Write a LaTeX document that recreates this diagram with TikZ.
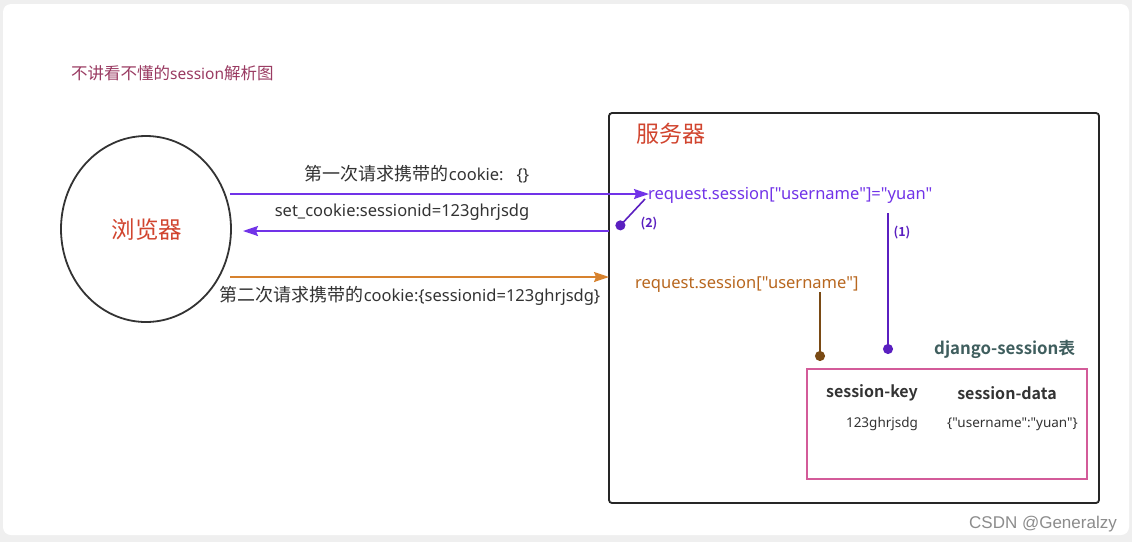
\documentclass[tikz,border=0pt]{standalone}
\usepackage{fontspec}
\setmainfont{Noto Sans}
\newfontfamily\latin{Noto Sans}
\newfontfamily\cjk{Noto Sans CJK SC}[BoldFont={Noto Sans CJK SC Bold}]
\newfontfamily\wmfont{Liberation Sans}
\usetikzlibrary{arrows.meta,shapes.geometric}
\definecolor{bgc}{HTML}{EFEFEF}
\definecolor{purp}{HTML}{7133E8}
\definecolor{dpurp}{HTML}{5A1FC0}
\definecolor{orng}{HTML}{D7822E}
\definecolor{brwn}{HTML}{7A4A14}
\definecolor{ortx}{HTML}{B8671F}
\definecolor{redt}{HTML}{D1452F}
\definecolor{titc}{HTML}{9A3B62}
\definecolor{tealc}{HTML}{3F5E5E}
\definecolor{pinkc}{HTML}{D35B99}
\definecolor{txt}{HTML}{333333}
\newcommand\cj[1]{{\cjk\fontsize{18}{20}\selectfont #1}}
\tikzset{
  lbl/.style={inner sep=0pt, text=txt, font=\latin\fontsize{16.5}{19}\selectfont},
  flow/.style={line width=1.6pt, -{Stealth[length=15pt,width=10pt,inset=2pt]}},
  dotend/.style={line width=1.6pt, -{Circle[length=10pt]}},
}
\begin{document}
\begin{tikzpicture}[x=1pt,y=-1pt]
\useasboundingbox (0,0) rectangle (1132,542);
\fill[bgc] (0,0) rectangle (1132,542);
\fill[white,rounded corners=8pt] (3,4) rectangle (1129,535);

% title
\node[anchor=west,inner sep=0pt,text=titc,font=\latin\fontsize{15.5}{17}\selectfont] (title) at (71,73) {{\cjk\fontsize{16.5}{18}\selectfont 不讲看不懂的}session{\cjk\fontsize{16.5}{18}\selectfont 解析图}};

% browser
\node[draw=txt,line width=1.8pt,ellipse,minimum width=170pt,minimum height=186pt,inner sep=0pt] (browser) at (146,229) {};
\node[text=redt,inner sep=0pt,font=\cjk\fontsize{23.5}{26}\selectfont] (btext) at (147,230) {浏览器};

% server
\draw[line width=1.8pt,draw=black!85,rounded corners=3pt] (609,113) rectangle (1099,503);
\coordinate (srvL2) at (609,231);
\coordinate (srvL3) at (609,277);
\node[anchor=west,text=redt,inner sep=0pt,font=\cjk\fontsize{23}{26}\selectfont] (srv) at (636,134) {服务器};

% request set
\node[anchor=west,inner sep=0pt,text=purp,font=\latin\fontsize{16.5}{19}\selectfont] (reqset) at (648,195) {request.session["username"]="yuan"};
\coordinate (reqin) at (649,194);
% request get
\node[anchor=west,inner sep=0pt,text=ortx,font=\latin\fontsize{16.5}{19}\selectfont] (reqget) at (635,284) {request.session["username"]};

% browser-side coordinates
\coordinate (b1) at (230,194);
\coordinate (b2) at (243,231);
\coordinate (b3) at (230,277);

% arrow 1
\draw[flow,draw=purp] (b1) -- (reqin);
\node[lbl] (l1) at (417,174) {\cj{第一次请求携带的}cookie:\ \ \ \{\}};
% arrow 2
\draw[flow,draw=purp] (srvL2) -- (b2);
\node[lbl] (l2) at (402,212) {set\_cookie:sessionid=123ghrjsdg};
% arrow 3
\draw[flow,draw=orng] (b3) -- (srvL3);
\node[lbl] (l3) at (410,296) {\cj{第二次请求携带的}cookie:\{sessionid=123ghrjsdg\}};

% (2) line
\coordinate (d2a) at (645,199);
\coordinate (d2b) at (617,229);
\draw[dotend,draw=dpurp] (d2a) -- (d2b);
\node[text=dpurp,inner sep=0pt,font=\cjk\bfseries\fontsize{12.5}{14}\selectfont] (n2) at (649,224) {(2)};

% table title
\node[anchor=west,inner sep=0pt,text=tealc,font=\cjk\bfseries\fontsize{16.8}{19}\selectfont] (dj) at (934,349) {django-session表};

% (1) line
\coordinate (d1a) at (888,213);
\coordinate (d1b) at (888,354);
\draw[dotend,draw=dpurp] (d1a) -- (d1b);
\node[text=dpurp,inner sep=0pt,font=\cjk\bfseries\fontsize{12.5}{14}\selectfont] (n1) at (902,233) {(1)};

% brown line
\coordinate (dba) at (820,292);
\coordinate (dbb) at (820,361);
\draw[dotend,draw=brwn] (dba) -- (dbb);

% table
\draw[line width=1.5pt,draw=pinkc] (807,369) rectangle (1087,479);
\node[inner sep=0pt,text=txt,font=\cjk\bfseries\fontsize{16}{18}\selectfont] (hk) at (872,393) {session-key};
\node[inner sep=0pt,text=txt,font=\cjk\bfseries\fontsize{16}{18}\selectfont] (hd) at (1007,393) {session-data};
\node[inner sep=0pt,text=txt,font=\latin\fontsize{13.5}{15}\selectfont] (vk) at (882,424) {123ghrjsdg};
\node[inner sep=0pt,text=txt,font=\latin\fontsize{13.5}{15}\selectfont] (vd) at (1012.5,424) {\{"username":"yuan"\}};

% watermark
\node[anchor=east,inner sep=0pt,text=black!45,font=\wmfont\fontsize{17}{19}\selectfont] (wm) at (1117,524) {CSDN @Generalzy};
\end{tikzpicture}
\end{document}
